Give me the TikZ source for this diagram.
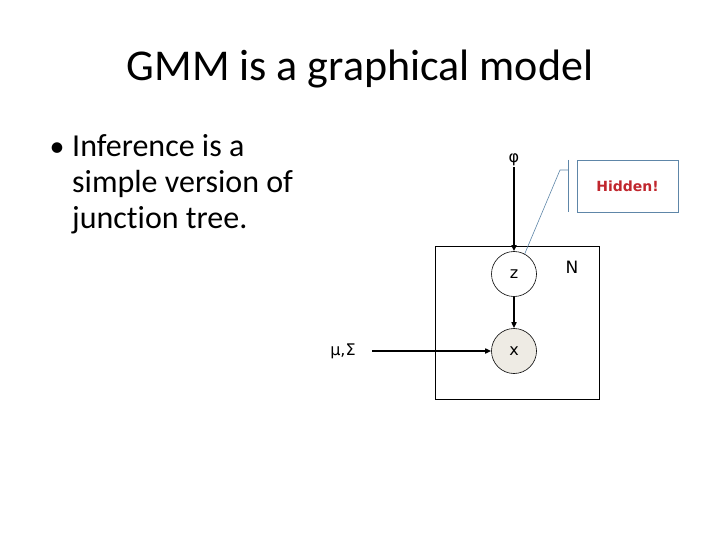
\documentclass[tikz,border=0pt]{standalone}
\usepackage{fontspec}
\setmainfont{Carlito}[Ligatures=NoCommon]
\newfontfamily\diagfont{DejaVu Sans}
\usepackage{xcolor}
\definecolor{gblue}{HTML}{5E86A8}
\definecolor{gred}{HTML}{C0262D}
\definecolor{gfill}{HTML}{EEEBE4}
\usetikzlibrary{arrows.meta,positioning,calc}

\begin{document}
\begin{tikzpicture}[
  x=1pt,y=-1pt,
  title/.style={font=\fontsize{44}{48}\selectfont,anchor=base},
  body/.style={font=\fontsize{32}{36}\selectfont,anchor=base west,inner sep=0pt},
  lbl/.style={font=\diagfont\fontsize{16}{18}\selectfont,inner sep=1pt},
  var/.style={circle,draw=black,line width=0.6pt,minimum size=45pt,inner sep=0pt,fill=white,font=\diagfont\fontsize{16}{18}\selectfont},
  obs/.style={var,fill=gfill},
  arr/.style={-{Triangle[length=6pt,width=5pt]},line width=1.5pt},
  call/.style={draw=gblue,line width=0.8pt}
]
\useasboundingbox (0,0) rectangle (720,540);
% title and bullet text
\node[title] (ttl) at (360,81) {GMM is a graphical model};
\node[font=\fontsize{30}{30}\selectfont,inner sep=0pt] (bul) at (57,150) {•};
\node[body] (l1) at (72,157) {Inference is a};
\node[body] (l2) at (72,193) {simple version of};
\node[body] (l3) at (72,229) {junction tree.};

% plate
\draw[line width=0.8pt] (435,246) rectangle (599,399);
\node[lbl,font=\diagfont\fontsize{17}{18}\selectfont] (N) at (572,267) {N};

% nodes
\node[lbl] (phi) at (514,160) {φ};
\node[var] (z) at (514,274) {z};
\node[obs] (x) at (514,351) {x};
\node[lbl] (mu) at (343,351) {μ,Σ};
\coordinate (mustart) at (372,351);

\draw[arr] (phi) -- (z);
\draw[arr] (z) -- (x);
\draw[arr] (mustart) -- (x);

% callout
\node[call,minimum width=101pt,minimum height=52pt,inner sep=0pt,
  font=\diagfont\bfseries\fontsize{14}{16}\selectfont,text=gred] (hid) at (627.5,186) {Hidden!};
\coordinate (bartop) at (568,160);
\coordinate (barbot) at (568,212);
\coordinate (knee) at (560,170);
\draw[call] (bartop) -- (barbot);
\draw[call,line width=0.6pt] (z.62) -- (knee) -- (knee -| bartop);
\end{tikzpicture}
\end{document}
